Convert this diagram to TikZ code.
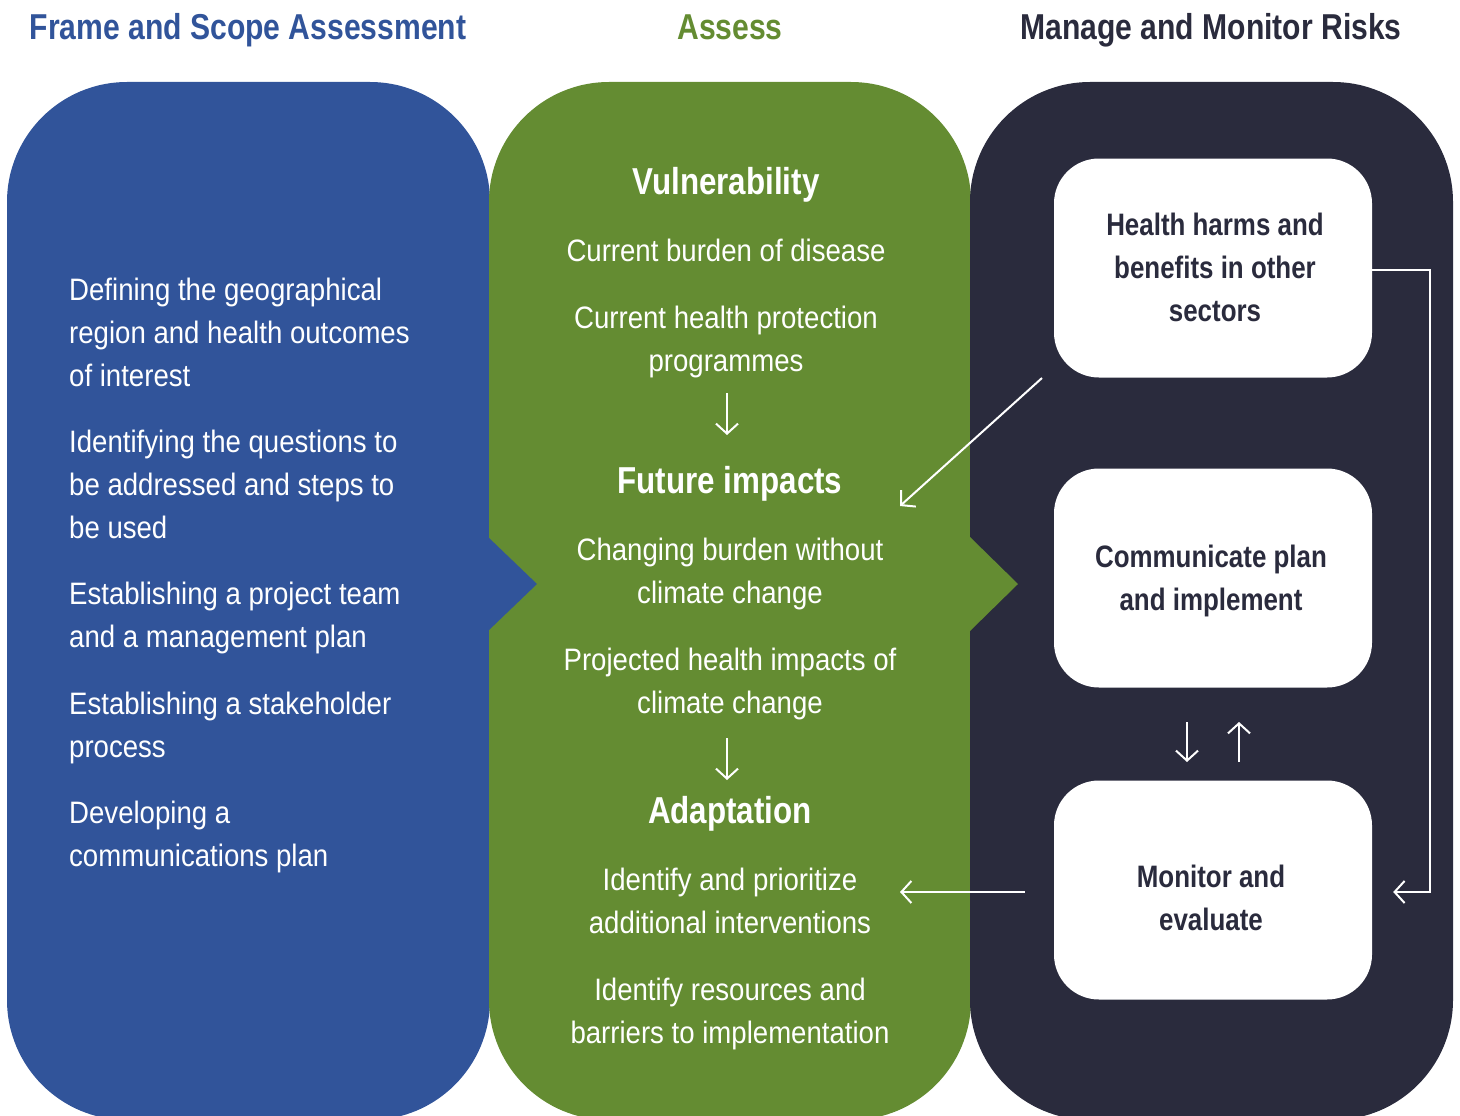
\documentclass[tikz,border=0pt]{standalone}
\usepackage{fontspec}
\setmainfont{Liberation Sans}[FakeStretch=0.89, BoldFeatures={FakeStretch=0.836}]
\usetikzlibrary{arrows.meta, positioning}
\definecolor{frameblue}{HTML}{31549A}
\definecolor{assessgreen}{HTML}{648C32}
\definecolor{managedark}{HTML}{2A2B3D}

\tikzset{
  body/.style={text=white, inner sep=0pt, font=\fontsize{31}{43}\selectfont},
  lefttext/.style={body, align=left, anchor=west},
  midtext/.style={body, align=center},
  head/.style={text=white, inner sep=0pt, font=\bfseries\fontsize{37.5}{43}\selectfont},
  title/.style={inner sep=0pt, anchor=base, font=\bfseries\fontsize{36}{43}\selectfont},
  box/.style={fill=white, rounded corners=45pt, minimum width=318pt, minimum height=219pt},
  boxtext/.style={text=managedark, inner sep=0pt, align=center, font=\bfseries\fontsize{31}{43}\selectfont},
  flow/.style={white, line width=2pt, -{Straight Barb[length=10pt,width=22pt,line width=2pt]}}
}

\begin{document}
\begin{tikzpicture}[x=1pt, y=-1pt]
  \useasboundingbox (0,0) rectangle (1460,1116);

  % panels
  \fill[frameblue, rounded corners=120pt] (7,82) rectangle (490,1120);
  \fill[assessgreen, rounded corners=120pt] (489,82) rectangle (971,1120);
  \fill[managedark, rounded corners=120pt] (970,82) rectangle (1453,1120);
  \fill[frameblue] (488,537) -- (537,584) -- (488,631) -- cycle;
  \fill[assessgreen] (970,537) -- (1018,584) -- (970,631) -- cycle;

  % titles
  \node[title, text=frameblue] (t1) at (248,40) {Frame and Scope Assessment};
  \node[title, text=assessgreen] (t2) at (730,40) {Assess};
  \node[title, text=managedark] (t3) at (1211,40) {Manage and Monitor Risks};

  % frame and scope
  \node[lefttext] (f1) at (69,332) {Defining the geographical\\region and health outcomes\\of interest};
  \node[lefttext] (f2) at (69,484) {Identifying the questions to\\be addressed and steps to\\be used};
  \node[lefttext] (f3) at (69,618) {Establishing a project team\\and a management plan};
  \node[lefttext] (f4) at (69,728) {Establishing a stakeholder\\process};
  \node[lefttext] (f5) at (69,837) {Developing a\\communications plan};

  % assess
  \node[head] (vul) at (726,185) {Vulnerability};
  \node[midtext] (a1) at (726,250) {Current burden of disease};
  \node[midtext] (a2) at (726,342) {Current health protection\\programmes};
  \node[head] (fut) at (730,484) {Future impacts};
  \node[midtext] (a3) at (730,574) {Changing burden without\\climate change};
  \node[midtext] (a4) at (730,684) {Projected health impacts of\\climate change};
  \node[head] (ada) at (730,814) {Adaptation};
  \node[midtext] (a5) at (730,901) {Identify and prioritize\\additional interventions};
  \node[midtext] (a6) at (730,1014) {Identify resources and\\barriers to implementation};

  \coordinate (v1) at (727,393);
  \coordinate (v2) at (727,435);
  \coordinate (v3) at (727,738);
  \coordinate (v4) at (727,780);
  \draw[flow] (v1) -- (v2);
  \draw[flow] (v3) -- (v4);

  % manage and monitor
  \node[box] (b1) at (1213,268) {};
  \node[box] (b2) at (1213,578) {};
  \node[box] (b3) at (1213,890) {};
  \node[boxtext] (b1t) at (1215,267) {Health harms and\\benefits in other\\sectors};
  \node[boxtext] (b2t) at (1211,580.5) {Communicate plan\\and implement};
  \node[boxtext] (b3t) at (1211,898) {Monitor and\\evaluate};

  \coordinate (d1) at (1042,378);
  \coordinate (d2) at (900,506);
  \coordinate (m1) at (900,892);
  \coordinate (u1) at (1187,722);
  \coordinate (u2) at (1187,762);
  \coordinate (u3) at (1239,762);
  \coordinate (u4) at (1239,722);
  \draw[flow] (d1) -- (d2);
  \draw[flow] ([yshift=-2pt]b1.east) -- ++(58,0) |- ([xshift=21pt, yshift=-2pt]b3.east);
  \draw[flow, shorten <=29pt] ([yshift=-2pt]b3.west) -- (m1);
  \draw[flow] (u1) -- (u2);
  \draw[flow] (u3) -- (u4);
\end{tikzpicture}
\end{document}
